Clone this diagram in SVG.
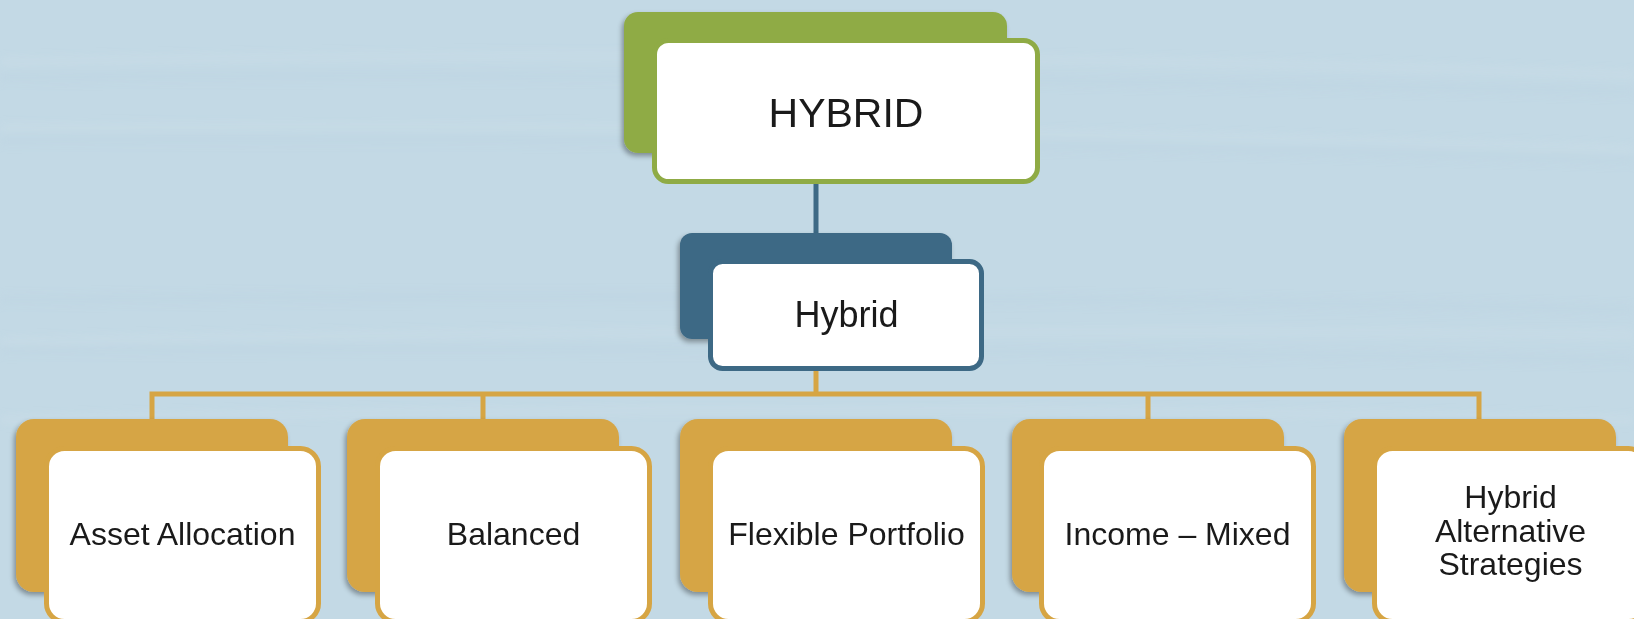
<svg xmlns="http://www.w3.org/2000/svg" width="1634" height="619" viewBox="0 0 1634 619">
<defs>
<filter id="sh" x="-10%" y="-10%" width="120%" height="130%">
<feDropShadow dx="-2" dy="3" stdDeviation="2.5" flood-color="#000" flood-opacity="0.35"/>
</filter>
<filter id="blur" x="-5%" y="-50%" width="110%" height="200%">
<feGaussianBlur stdDeviation="4"/>
</filter>
<style>
.t{font-family:"Liberation Sans",Arial,sans-serif;fill:#1a1a1a;text-anchor:middle}
.front{fill:#fff;stroke-width:5}
.g-back{fill:#8fab45}
.b-back{fill:#3d6985}
.o-back{fill:#d6a544}
.g-front{stroke:#8fab45}
.b-front{stroke:#3d6985}
.o-front{stroke:#d6a544}
.conn-b{stroke:#3d6985;stroke-width:5;fill:none}
.conn-o{stroke:#d6a544;stroke-width:5;fill:none}
.streak{fill:none;stroke:#d0e2ec;stroke-width:6;opacity:0.35}
.streak2{fill:none;stroke:#b8d1e0;stroke-width:8;opacity:0.3}
</style>
</defs>
<rect width="1634" height="619" fill="#c3d9e5"/>
<g id="background-streaks" filter="url(#blur)">
<path class="streak" d="M0 62 Q800 45 1634 75"/>
<path class="streak2" d="M0 78 Q700 70 1634 92"/>
<path class="streak" d="M0 128 Q800 120 1634 150"/>
<path class="streak2" d="M0 140 Q800 135 1634 160"/>
<path class="streak" d="M0 342 Q800 325 1634 335"/>
<path class="streak2" d="M0 350 Q800 345 1634 360"/>
<path class="streak2" d="M0 300 Q800 290 1634 310"/>
<path class="streak" d="M0 420 Q800 400 1634 420"/>
</g>
<g id="connectors">
<line class="conn-b" x1="816" y1="182" x2="816" y2="236"/>
<line class="conn-o" x1="816" y1="371" x2="816" y2="394"/>
<polyline class="conn-o" points="152,421 152,394 1479,394 1479,421"/>
<line class="conn-o" x1="483" y1="394" x2="483" y2="421"/>
<line class="conn-o" x1="1148" y1="394" x2="1148" y2="421"/>
</g>
<g id="node-top">
<rect class="g-back" x="624" y="12" width="383" height="141" rx="14" filter="url(#sh)"/>
<rect class="front g-front" x="654.5" y="40.5" width="383" height="141" rx="14"/>
<text class="t" x="846" y="127" font-size="41">HYBRID</text>
</g>
<g id="node-hybrid">
<rect class="b-back" x="680" y="233" width="272" height="106" rx="12" filter="url(#sh)"/>
<rect class="front b-front" x="710.5" y="261.5" width="271" height="107" rx="12"/>
<text class="t" x="846.5" y="327" font-size="36">Hybrid</text>
</g>
<g id="node-asset-allocation">
<rect class="o-back" x="16" y="419" width="272" height="173" rx="18" filter="url(#sh)"/>
<rect class="front o-front" x="46.5" y="448.5" width="272" height="173" rx="18"/>
<text class="t" x="182.5" y="545" font-size="32">Asset Allocation</text>
</g>
<g id="node-balanced">
<rect class="o-back" x="347" y="419" width="272" height="173" rx="18" filter="url(#sh)"/>
<rect class="front o-front" x="377.5" y="448.5" width="272" height="173" rx="18"/>
<text class="t" x="513.5" y="545" font-size="32">Balanced</text>
</g>
<g id="node-flexible-portfolio">
<rect class="o-back" x="680" y="419" width="272" height="173" rx="18" filter="url(#sh)"/>
<rect class="front o-front" x="710.5" y="448.5" width="272" height="173" rx="18"/>
<text class="t" x="846.5" y="545" font-size="32">Flexible Portfolio</text>
</g>
<g id="node-income-mixed">
<rect class="o-back" x="1012" y="419" width="272" height="173" rx="18" filter="url(#sh)"/>
<rect class="front o-front" x="1041.5" y="448.5" width="272" height="173" rx="18"/>
<text class="t" x="1177.5" y="545" font-size="32">Income – Mixed</text>
</g>
<g id="node-hybrid-alternative">
<rect class="o-back" x="1344" y="419" width="272" height="173" rx="18" filter="url(#sh)"/>
<rect class="front o-front" x="1374.5" y="448.5" width="272" height="173" rx="18"/>
<text class="t" x="1510.5" font-size="32"><tspan x="1510.5" y="508">Hybrid</tspan><tspan x="1510.5" y="542">Alternative</tspan><tspan x="1510.5" y="575">Strategies</tspan></text>
</g>
</svg>
